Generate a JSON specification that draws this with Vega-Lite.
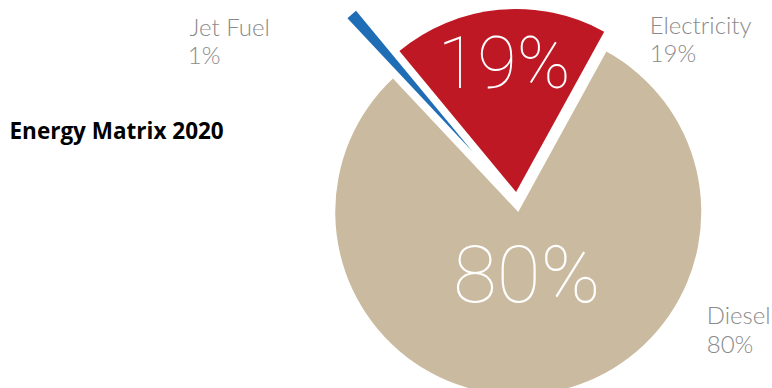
{
  "$schema": "https://vega.github.io/schema/vega-lite/v6.json",
  "autosize": "none",
  "width": 366,
  "height": 366,
  "padding": {"left": 334, "top": 19, "right": 72, "bottom": 3},
  "background": "white",
  "config": {"view": {"stroke": null}},
  "title": {
    "text": "Energy Matrix 2020",
    "orient": "left",
    "angle": 0,
    "align": "left",
    "baseline": "alphabetic",
    "anchor": "middle",
    "offset": 0,
    "dx": 36,
    "dy": -63,
    "font": "Open Sans",
    "fontSize": 22.5,
    "fontWeight": "bold",
    "color": "#000000"
  },
  "data": {
    "values": [
      {"category": "Electricity", "share": 0.19},
      {"category": "Diesel", "share": 0.80},
      {"category": "Jet Fuel", "share": 0.01}
    ]
  },
  "encoding": {
    "theta": {
      "field": "share",
      "type": "quantitative",
      "stack": true,
      "scale": {"domain": [0, 1], "range": [-0.754, 5.529]}
    },
    "order": {"field": "category", "sort": "descending"},
    "detail": {"field": "category", "type": "nominal"}
  },
  "layer": [
    {
      "mark": {
        "type": "arc",
        "outerRadius": 183,
        "x": {"expr": "width/2 + (datum.category === 'Jet Fuel' ? 67 : 10) * sin(-0.754 + PI*(datum.share_start + datum.share_end))"},
        "y": {"expr": "height/2 - (datum.category === 'Jet Fuel' ? 67 : 10) * cos(-0.754 + PI*(datum.share_start + datum.share_end))"}
      },
      "encoding": {
        "color": {
          "field": "category",
          "type": "nominal",
          "scale": {"domain": ["Diesel", "Electricity", "Jet Fuel"], "range": ["#CABA9F", "#BD1824", "#1F6DB5"]},
          "legend": null
        }
      }
    },
    {
      "mark": {
        "type": "text",
        "font": "Roboto",
        "fontWeight": 100,
        "fontSize": {"expr": "datum.category === 'Diesel' ? 80 : 72"},
        "fill": "#ffffff",
        "align": "center",
        "baseline": "middle",
        "radius": {"expr": "datum.category === 'Diesel' ? 67 : 127"},
        "x": {"expr": "width/2 + (datum.category === 'Jet Fuel' ? 67 : 10) * sin(-0.754 + PI*(datum.share_start + datum.share_end))"},
        "y": {"expr": "height/2 - (datum.category === 'Jet Fuel' ? 67 : 10) * cos(-0.754 + PI*(datum.share_start + datum.share_end))"}
      },
      "encoding": {
        "text": {
          "condition": {"test": "datum.category === 'Jet Fuel'", "value": ""},
          "field": "share",
          "type": "quantitative",
          "format": ".0%"
        }
      }
    },
    {
      "mark": {
        "type": "text",
        "font": "Lato",
        "fontWeight": 300,
        "fontSize": 24,
        "fill": "#8a8a8a",
        "baseline": "alphabetic",
        "radius": 195,
        "align": {"expr": "datum.category === 'Jet Fuel' ? 'right' : 'left'"},
        "dx": {"expr": "datum.category === 'Jet Fuel' ? -74 : datum.category === 'Electricity' ? 152 : 164"},
        "dy": {"expr": "datum.category === 'Jet Fuel' ? 31 : datum.category === 'Electricity' ? 36 : -81"},
        "x": {"expr": "width/2 + (datum.category === 'Jet Fuel' ? 67 : 10) * sin(-0.754 + PI*(datum.share_start + datum.share_end))"},
        "y": {"expr": "height/2 - (datum.category === 'Jet Fuel' ? 67 : 10) * cos(-0.754 + PI*(datum.share_start + datum.share_end))"}
      },
      "encoding": {
        "text": {"field": "category", "type": "nominal"}
      }
    },
    {
      "mark": {
        "type": "text",
        "font": "Lato",
        "fontWeight": 300,
        "fontSize": 24,
        "fill": "#8a8a8a",
        "baseline": "alphabetic",
        "radius": 195,
        "align": "left",
        "dx": {"expr": "datum.category === 'Jet Fuel' ? -156 : datum.category === 'Electricity' ? 152 : 164"},
        "dy": {"expr": "datum.category === 'Jet Fuel' ? 59 : datum.category === 'Electricity' ? 64 : -52"},
        "x": {"expr": "width/2 + (datum.category === 'Jet Fuel' ? 67 : 10) * sin(-0.754 + PI*(datum.share_start + datum.share_end))"},
        "y": {"expr": "height/2 - (datum.category === 'Jet Fuel' ? 67 : 10) * cos(-0.754 + PI*(datum.share_start + datum.share_end))"}
      },
      "encoding": {
        "text": {"field": "share", "type": "quantitative", "format": ".0%"}
      }
    }
  ]
}
